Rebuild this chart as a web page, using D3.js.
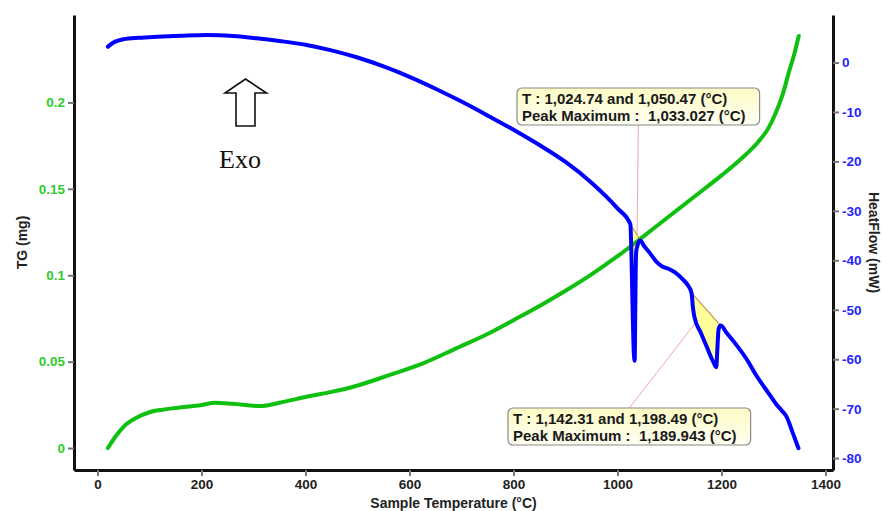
<!DOCTYPE html>
<html>
<head>
<meta charset="utf-8">
<script src="https://cdn.jsdelivr.net/npm/d3@7/dist/d3.min.js"></script>
<style>
  body { margin: 0; background: #fff; }
  svg { display: block; font-family: "Liberation Sans", Arial, sans-serif; }
</style>
</head>
<body>
<svg id="chart" width="883" height="511"></svg>
<script>
// Thermogravimetric (TG) trace, sample temperature in °C, mass in mg
const tgTemp = [20, 35, 50, 75, 100, 125, 150, 200, 226, 260, 312, 350, 402, 450, 492, 562, 626, 690, 750, 800, 850, 900, 950, 1000, 1050, 1100, 1150, 1200, 1240, 1270, 1290, 1305, 1318, 1330, 1340, 1348.5];
const tgValues = [0.000, 0.0068, 0.0123, 0.0175, 0.0207, 0.0222, 0.0232, 0.0249, 0.0262, 0.0256, 0.0243, 0.0262, 0.0297, 0.0325, 0.0355, 0.0423, 0.049, 0.0577, 0.0660, 0.0740, 0.0822, 0.0910, 0.1005, 0.1110, 0.1225, 0.1343, 0.1460, 0.1578, 0.1680, 0.1770, 0.1850, 0.1945, 0.2050, 0.2180, 0.2280, 0.2385];

// Heat-flow (DSC) trace, mW
const hfTemp = [20, 30, 50, 80, 114, 160, 210, 260, 306, 350, 402, 450, 500, 550, 600, 650, 700, 750, 800, 850, 900, 950, 1000,
  1024.74, 1027, 1029.5, 1031.5, 1033.027, 1034, 1035, 1036, 1038, 1041, 1044, 1050.47,
  1062, 1075, 1087, 1100, 1110, 1126, 1135,
  1142.31, 1145, 1148, 1160, 1172, 1184, 1189.943, 1192, 1194, 1196, 1198.49,
  1210, 1230, 1249, 1267, 1290, 1306, 1316, 1325, 1337, 1348];
const hfValues = [3.2, 4.0, 4.7, 5.0, 5.2, 5.4, 5.55, 5.35, 4.9, 4.35, 3.55, 2.45, 1.0, -0.8, -2.9, -5.3, -7.9, -10.7, -13.6, -16.7, -20.1, -24.3, -29.5,
  -32.7, -40, -52, -59, -60.3, -52, -42, -38.2, -37.2, -36.2, -36.0, -37.0,
  -38.5, -40.3, -41.3, -41.8, -42.4, -43.9, -45.0,
  -46.6, -49.5, -51.5, -54.6, -57.6, -60.5, -61.6, -58, -54.3, -53.4, -53.2,
  -54.7, -57.3, -60.1, -63.3, -66.8, -69.2, -70.4, -71.6, -74.9, -78.0];

// Integrated peaks: onset / end temperatures and peak maximum
const peakStart = [1024.74, 1142.31];
const peakEnd = [1050.47, 1198.49];
const peakMax = [1033.027, 1189.943];

// Axis ticks
const xTicks = [0, 200, 400, 600, 800, 1000, 1200, 1400];
const tgTicks = [0, 0.05, 0.1, 0.15, 0.2];
const hfTicks = [0, -10, -20, -30, -40, -50, -60, -70, -80];

const svg = d3.select("#chart");
const L = 74, R = 833, T = 15, B = 470;

const x = d3.scaleLinear().domain([-45.2, 1414.4]).range([L, R]);
const yTG = d3.scaleLinear().domain([-0.0127, 0.2506]).range([B, T]);
const yHF = d3.scaleLinear().domain([-82.4, 9.6]).range([B, T]);

const tgData = tgTemp.map((t, i) => ({ t, v: tgValues[i] }));
const hfData = hfTemp.map((t, i) => ({ t, v: hfValues[i] }));
const hfAt = t => hfValues[hfTemp.indexOf(t)];

// ---- Axes ----
function styleAxis(g, labelColor) {
  g.select(".domain").attr("stroke", "#111").attr("stroke-width", 3);
  g.selectAll(".tick line").attr("stroke", "#777").attr("stroke-width", 2);
  g.selectAll(".tick text")
    .attr("fill", labelColor)
    .style("font-size", "13.5px")
    .style("font-weight", "bold");
}

svg.append("g")
  .attr("transform", `translate(0,${B})`)
  .call(d3.axisBottom(x).tickValues(xTicks).tickSize(6).tickSizeOuter(0).tickPadding(3)
    .tickFormat(d => String(d)))
  .call(g => styleAxis(g, "#222"));

svg.append("g")
  .attr("transform", `translate(${L},0)`)
  .call(d3.axisLeft(yTG).tickValues(tgTicks).tickSize(6).tickSizeOuter(0).tickPadding(3)
    .tickFormat(d => String(d)))
  .call(g => styleAxis(g, "#2ecc2e"));

svg.append("g")
  .attr("transform", `translate(${R},0)`)
  .call(d3.axisRight(yHF).tickValues(hfTicks).tickSize(6).tickSizeOuter(0).tickPadding(3)
    .tickFormat(d => String(d)))
  .call(g => styleAxis(g, "#2424ff"));

// Axis titles
svg.append("text")
  .attr("x", (L + R) / 2).attr("y", 508)
  .attr("text-anchor", "middle")
  .style("font-size", "14px").style("font-weight", "bold").attr("fill", "#222")
  .text("Sample Temperature (°C)");

svg.append("text")
  .attr("transform", `translate(27,${(T + B) / 2}) rotate(-90)`)
  .attr("text-anchor", "middle")
  .style("font-size", "14px").style("font-weight", "bold").attr("fill", "#222")
  .text("TG (mg)");

svg.append("text")
  .attr("transform", `translate(869,${(T + B) / 2}) rotate(90)`)
  .attr("text-anchor", "middle")
  .style("font-size", "14px").style("font-weight", "bold").attr("fill", "#222")
  .text("HeatFlow (mW)");

// ---- Peak areas (between curve and the onset-end baseline) ----
const peaks = peakStart.map((s, i) => {
  const e = peakEnd[i];
  const seg = hfData.filter(d => d.t >= s && d.t <= e);
  const b0 = { t: s, v: hfAt(s) }, b1 = { t: e, v: hfAt(e) };
  return { s, e, m: peakMax[i], seg, b0, b1 };
});

peaks.forEach(p => {
  const pts = p.seg.map(d => [x(d.t), yHF(d.v)]);
  pts.push([x(p.b1.t), yHF(p.b1.v)], [x(p.b0.t), yHF(p.b0.v)]);
  svg.append("path")
    .attr("d", d3.line()(pts) + "Z")
    .attr("fill", "#ffff99")
    .attr("stroke", "none");
  svg.append("line")
    .attr("x1", x(p.b0.t)).attr("y1", yHF(p.b0.v))
    .attr("x2", x(p.b1.t)).attr("y2", yHF(p.b1.v))
    .attr("stroke", "#c89050").attr("stroke-width", 1.2);
});

// ---- Curves ----
svg.append("path")
  .datum(tgData)
  .attr("fill", "none")
  .attr("stroke", "#10c010")
  .attr("stroke-width", 4)
  .attr("stroke-linejoin", "round")
  .attr("stroke-linecap", "round")
  .attr("d", d3.line().x(d => x(d.t)).y(d => yTG(d.v)).curve(d3.curveMonotoneX));

svg.append("path")
  .datum(hfData)
  .attr("fill", "none")
  .attr("stroke", "#0000ff")
  .attr("stroke-width", 4)
  .attr("stroke-linejoin", "round")
  .attr("stroke-linecap", "round")
  .attr("d", d3.line().x(d => x(d.t)).y(d => yHF(d.v)).curve(d3.curveMonotoneX));

// ---- Peak annotation boxes ----
const defs = svg.append("defs");
const grad = defs.append("linearGradient").attr("id", "boxFill")
  .attr("x1", 0).attr("y1", 0).attr("x2", 0).attr("y2", 1);
grad.append("stop").attr("offset", "0%").attr("stop-color", "#fdfbc4");
grad.append("stop").attr("offset", "100%").attr("stop-color", "#fffff2");

const fmt2 = d3.format(",.2f"), fmt3 = d3.format(",.3f");
const boxPos = [{ x: 517, y: 88, below: true }, { x: 508, y: 408, below: false }];

peaks.forEach((p, i) => {
  const bp = boxPos[i];
  const g = svg.append("g");
  const lines = [
    `T : ${fmt2(p.s)} and ${fmt2(p.e)} (°C)`,
    `Peak Maximum :  ${fmt3(p.m)} (°C)`
  ];
  const rect = g.append("rect");
  const texts = lines.map((s, k) => g.append("text")
    .attr("x", bp.x + 5).attr("y", bp.y + 15.5 + k * 17.5)
    .attr("xml:space", "preserve")
    .style("white-space", "pre")
    .style("font-size", "15px").style("font-weight", "bold").attr("fill", "#1a1a1a")
    .text(s));
  const w = d3.max(texts, t => t.node().getComputedTextLength()) + 19;
  const h = 37;
  rect.attr("x", bp.x).attr("y", bp.y).attr("width", w).attr("height", h)
    .attr("rx", 5).attr("fill", "url(#boxFill)").attr("stroke", "#8a8a8a").attr("stroke-width", 1.2);
  // leader from box to the baseline midpoint
  const mx = (x(p.b0.t) + x(p.b1.t)) / 2, my = (yHF(p.b0.v) + yHF(p.b1.v)) / 2;
  svg.insert("line", "g")
    .attr("x1", bp.x + w / 2).attr("y1", bp.below ? bp.y + h : bp.y)
    .attr("x2", mx).attr("y2", my)
    .attr("stroke", "#f0a8a8").attr("stroke-width", 1);
});

// ---- Exo arrow and label ----
svg.append("path")
  .attr("d", "M245.5,79 L266.5,93 L255,93 L255,126 L236,126 L236,93 L225,93 Z")
  .attr("fill", "#fff").attr("stroke", "#111").attr("stroke-width", 1.6)
  .attr("stroke-linejoin", "miter");

svg.append("text")
  .attr("x", 240).attr("y", 168)
  .attr("text-anchor", "middle")
  .style("font-family", "'Liberation Serif', 'Times New Roman', serif")
  .style("font-size", "26px").attr("fill", "#111")
  .text("Exo");
</script>
</body>
</html>
